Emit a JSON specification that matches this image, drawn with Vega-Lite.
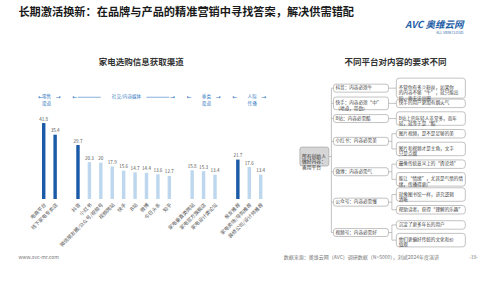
{
  "$schema": "https://vega.github.io/schema/vega-lite/v6.json",
  "background": "white",
  "padding": {"left": 18, "top": 6, "right": 5, "bottom": 5},
  "config": {"font": "Noto Sans CJK SC", "view": {"stroke": null}},
  "datasets": {
    "bars": [
      {"name": "电商平台", "value": 41.8, "group": "零售渠道"},
      {"name": "线下家电专卖店", "value": 35.4, "group": "零售渠道"},
      {"name": "抖音", "value": 29.7, "group": "社交/内容媒体"},
      {"name": "小红书", "value": 20.3, "group": "社交/内容媒体"},
      {"name": "微信朋友圈/公众号/视频号", "value": 20, "group": "社交/内容媒体"},
      {"name": "视频网站", "value": 17.9, "group": "社交/内容媒体"},
      {"name": "快手", "value": 15.6, "group": "社交/内容媒体"},
      {"name": "B站", "value": 14.7, "group": "社交/内容媒体"},
      {"name": "微博", "value": 14.4, "group": "社交/内容媒体"},
      {"name": "今日头条", "value": 13.6, "group": "社交/内容媒体"},
      {"name": "知乎", "value": 12.7, "group": "社交/内容媒体"},
      {"name": "家电垂直类网站", "value": 15.8, "group": "垂类渠道"},
      {"name": "家电官方旗舰店", "value": 15.3, "group": "垂类渠道"},
      {"name": "家电设计类论坛", "value": 13.4, "group": "垂类渠道"},
      {"name": "亲友推荐", "value": 21.7, "group": "人际传播"},
      {"name": "家电卖场/导购推荐", "value": 17.6, "group": "人际传播"},
      {"name": "装修公司/设计师推荐", "value": 13.4, "group": "人际传播"}
    ],
    "headers": [
      {"label": "零售\n渠道", "first": "电商平台", "mid": "电商平台", "last": "线下家电专卖店"},
      {"label": "社交/内容媒体", "first": "抖音", "mid": "快手", "last": "知乎"},
      {"label": "垂类\n渠道", "first": "家电垂直类网站", "mid": "家电官方旗舰店", "last": "家电设计类论坛"},
      {"label": "人际\n传播", "first": "亲友推荐", "mid": "家电卖场/导购推荐", "last": "装修公司/设计师推荐"}
    ],
    "notes": [
      {"platform": "抖音：内容必须牛", "note": "不管你有多少粉丝，如果你\n的内容不够“牛”，就只能出\n局，再无法出圈"},
      {"platform": "快手：内容必须“中”\n（地道，带劲）", "note": "快手的用户更加有烟火气"},
      {"platform": "B站：内容必需酷", "note": "B站上的年轻人非常多，而年\n轻，就等于是“酷”"},
      {"platform": "小红书：内容必需美", "note": "图片视频，是不是足够的美"},
      {"platform": "小红书：内容必需美", "note": "图片和视频才是主角，文字\n只是点缀"},
      {"platform": "微博：内容必需气", "note": "最像传统意义上的“舆论场”"},
      {"platform": "微博：内容必需气", "note": "能让“情绪”，尤其是气愤的情\n绪，传播得更广"},
      {"platform": "公众号：内容必需懂", "note": "就像图书馆一样，讲究逻辑\n清晰"},
      {"platform": "公众号：内容必需懂", "note": "帮助读者，获得“理解的乐趣”"},
      {"platform": "视频号：内容必需好", "note": "沉淀了更多年长的用户"},
      {"platform": "视频号：内容必需好", "note": "他们更偏好传统的文化和价\n值观"}
    ],
    "rootbox": [{"rootText": "所有创始人\n做好内容：\n善用平台"}],
    "single": [{"item": 1}]
  },
  "title": {
    "text": "www.avc-mr.com\u3000\u3000\u3000\u3000\u3000\u3000\u3000\u3000\u3000\u3000\u3000\u3000\u3000\u3000\u3000\u3000\u3000\u3000\u3000\u3000\u3000\u3000\u3000\u3000\u3000\u3000\u3000\u3000\u3000\u3000\u3000\u3000\u3000\u3000\u3000\u3000\u3000\u3000\u3000\u3000\u3000\u3000\u3000\u3000\u3000数据来源：奥维云网（AVC）调研数据（N=5000），刘斌2024年度演讲\u3000\u3000\u3000\u3000\u3000\u3000-19-",
    "orient": "bottom", "anchor": "start", "fontSize": 5, "fontWeight": "normal", "color": "#777", "offset": 3
  },
  "vconcat": [
    {
      "title": {"text": "长期激活换新：在品牌与产品的精准营销中寻找答案，解决供需错配", "anchor": "start", "fontSize": 11.2, "fontWeight": "bold", "color": "#1a1a1a", "offset": 2},
      "vconcat": [
        {
          "title": {"text": "AVC 奥维云网", "subtitle": "ALL VIEW CLOUD", "anchor": "end", "fontSize": 9.5, "fontWeight": "bold", "fontStyle": "italic", "color": "#1f5fa8", "subtitleFontSize": 3.5, "subtitleColor": "#1f5fa8", "subtitlePadding": 1, "dy": -22, "dx": -5, "offset": 1.5},
          "spacing": 31.4,
          "hconcat": [
            {
              "width": {"step": 11.42},
              "height": 123,
              "title": {"text": "家电选购信息获取渠道", "anchor": "middle", "fontSize": 8.5, "fontWeight": "bold", "color": "#333", "offset": 10, "dx": -11},
              "data": {"name": "bars"},
              "layer": [
                {
                  "mark": {"type": "bar", "width": {"band": 0.3}},
                  "encoding": {
                    "x": {"field": "name", "type": "nominal", "sort": null,
                      "scale": {"domain": ["电商平台", "线下家电专卖店", "gap1", "抖音", "小红书", "微信朋友圈/公众号/视频号", "视频网站", "快手", "B站", "微博", "今日头条", "知乎", "gap2", "家电垂直类网站", "家电官方旗舰店", "家电设计类论坛", "gap3", "亲友推荐", "家电卖场/导购推荐", "装修公司/设计师推荐"], "paddingInner": 0, "paddingOuter": 0},
                      "axis": {"title": null, "labelAngle": -45, "labelFontSize": 5, "labelColor": "#555", "domain": false, "ticks": false, "labelPadding": 3, "labelExpr": "indexof(datum.label, 'gap') == 0 ? '' : datum.label"}},
                    "y": {"field": "value", "type": "quantitative", "scale": {"domain": [0, 67.7], "nice": false},
                      "axis": {"values": [0], "labelOpacity": 0, "labelFontSize": 5, "labelPadding": 16.8, "ticks": false, "domain": false, "grid": false, "title": null}},
                    "color": {"condition": {"test": "indexof(['电商平台','线下家电专卖店','抖音','亲友推荐'], datum.name) >= 0", "value": "#1b5aa7"}, "value": "#bdd7ee"}
                  }
                },
                {
                  "mark": {"type": "text", "baseline": "bottom", "dy": -1.5, "fontSize": 4.6, "color": "#555"},
                  "encoding": {
                    "x": {"field": "name", "type": "nominal", "sort": null},
                    "y": {"field": "value", "type": "quantitative"},
                    "text": {"field": "value", "type": "quantitative"}
                  }
                },
                {
                  "data": {"name": "headers"},
                  "mark": {"type": "text", "baseline": "middle", "align": "center", "lineBreak": "\n", "lineHeight": 7, "fontSize": 4.6, "color": "#3b7dc4"},
                  "encoding": {
                    "x": {"field": "mid", "type": "nominal", "sort": null, "bandPosition": 0.75},
                    "y": {"datum": 56, "type": "quantitative"},
                    "text": {"field": "label"}
                  }
                },
                {
                  "data": {"name": "headers"},
                  "mark": {"type": "text", "text": "←", "font": "DejaVu Sans", "baseline": "middle", "align": "left", "fontSize": 6, "color": "#3b7dc4"},
                  "encoding": {
                    "x": {"field": "first", "type": "nominal", "sort": null, "bandPosition": 0},
                    "y": {"datum": 56, "type": "quantitative"}
                  }
                },
                {
                  "data": {"name": "headers"},
                  "mark": {"type": "text", "text": "→", "font": "DejaVu Sans", "baseline": "middle", "align": "right", "fontSize": 6, "color": "#3b7dc4"},
                  "encoding": {
                    "x": {"field": "last", "type": "nominal", "sort": null, "bandPosition": 1},
                    "y": {"datum": 56, "type": "quantitative"}
                  }
                },
                {
                  "data": {"values": [{"from": "抖音", "to": "微信朋友圈/公众号/视频号"}, {"from": "微博", "to": "知乎"}]},
                  "mark": {"type": "rule", "color": "#3b7dc4", "strokeWidth": 0.6},
                  "encoding": {
                    "x": {"field": "from", "type": "nominal", "sort": null},
                    "x2": {"field": "to"},
                    "y": {"datum": 56, "type": "quantitative"}
                  }
                }
              ]
            },
            {
              "width": 170,
              "height": 176.3,
              "title": {"text": "不同平台对内容的要求不同", "anchor": "middle", "fontSize": 8.5, "fontWeight": "bold", "color": "#333", "offset": 10, "dx": 12},
              "data": {"name": "notes"},
              "encoding": {
                "x": {"type": "quantitative", "scale": {"domain": [0, 100], "nice": false, "zero": false}, "axis": null},
                "y": {"type": "nominal", "sort": null, "axis": null,
                  "scale": {"domain": ["不管你有多少粉丝，如果你\n的内容不够“牛”，就只能出\n局，再无法出圈", "快手的用户更加有烟火气", "B站上的年轻人非常多，而年\n轻，就等于是“酷”", "图片视频，是不是足够的美", "图片和视频才是主角，文字\n只是点缀", "最像传统意义上的“舆论场”", "能让“情绪”，尤其是气愤的情\n绪，传播得更广", "就像图书馆一样，讲究逻辑\n清晰", "帮助读者，获得“理解的乐趣”", "沉淀了更多年长的用户", "他们更偏好传统的文化和价\n值观"], "paddingInner": 0, "paddingOuter": 0.3}}
              },
              "layer": [
                {
                  "data": {"name": "single"},
                  "mark": {"type": "rule", "color": "#9a9a9a", "strokeWidth": 0.6},
                  "encoding": {
                    "x": {"datum": 19.4},
                    "y": {"datum": "沉淀了更多年长的用户", "bandPosition": 1},
                    "y2": {"datum": "不管你有多少粉丝，如果你\n的内容不够“牛”，就只能出\n局，再无法出圈"}
                  }
                },
                {
                  "data": {"name": "rootbox"},
                  "mark": {"type": "rule", "color": "#9a9a9a", "strokeWidth": 0.6},
                  "encoding": {
                    "x": {"datum": 17.9},
                    "x2": {"datum": 19.4},
                    "y": {"datum": "图片和视频才是主角，文字\n只是点缀", "bandPosition": 1}
                  }
                },
                {
                  "data": {"name": "rootbox"},
                  "mark": {"type": "point", "filled": true, "opacity": 1, "fill": "#d6d6d6", "stroke": "#9a9a9a", "strokeWidth": 0.6, "size": 841,
                    "shape": "M-0.85,-0.655H0.85Q1,-0.655 1,-0.505V0.505Q1,0.655 0.85,0.655H-0.85Q-1,0.655 -1,0.505V-0.505Q-1,-0.655 -0.85,-0.655Z"},
                  "encoding": {
                    "x": {"datum": 9.4},
                    "y": {"datum": "图片和视频才是主角，文字\n只是点缀", "bandPosition": 1}
                  }
                },
                {
                  "data": {"name": "rootbox"},
                  "mark": {"type": "text", "align": "left", "baseline": "middle", "lineBreak": "\n", "lineHeight": 5.8, "fontSize": 4.8, "color": "#333"},
                  "encoding": {
                    "x": {"datum": 2.1},
                    "y": {"datum": "图片和视频才是主角，文字\n只是点缀", "bandPosition": 1},
                    "text": {"field": "rootText"}
                  }
                },
                {
                  "transform": [
                    {"window": [{"op": "lead", "field": "note", "as": "next"}], "groupby": ["platform"]},
                    {"filter": "datum.next != null"}
                  ],
                  "mark": {"type": "rule", "color": "#9a9a9a", "strokeWidth": 0.6},
                  "encoding": {
                    "x": {"datum": 55},
                    "y": {"field": "note"},
                    "y2": {"field": "next"}
                  }
                },
                {
                  "mark": {"type": "rule", "color": "#9a9a9a", "strokeWidth": 0.6},
                  "encoding": {
                    "x": {"datum": 55},
                    "x2": {"datum": 57.6},
                    "y": {"field": "note"}
                  }
                },
                {
                  "mark": {"type": "point", "filled": true, "opacity": 1, "fill": "white", "stroke": "#9a9a9a", "strokeWidth": 0.6, "size": 4761},
                  "encoding": {
                    "x": {"datum": 77.9},
                    "y": {"field": "note"},
                    "shape": {
                      "condition": [
                        {"test": "length(split(datum.note, '\\n')) >= 3", "value": "M-0.92,-0.29H0.92Q1,-0.29 1,-0.21V0.21Q1,0.29 0.92,0.29H-0.92Q-1,0.29 -1,0.21V-0.21Q-1,-0.29 -0.92,-0.29Z"},
                        {"test": "length(split(datum.note, '\\n')) == 2", "value": "M-0.92,-0.196H0.92Q1,-0.196 1,-0.116V0.116Q1,0.196 0.92,0.196H-0.92Q-1,0.196 -1,0.116V-0.116Q-1,-0.196 -0.92,-0.196Z"}
                      ],
                      "value": "M-0.92,-0.123H0.92Q1,-0.123 1,-0.043V0.043Q1,0.123 0.92,0.123H-0.92Q-1,0.123 -1,0.043V-0.043Q-1,-0.123 -0.92,-0.123Z"
                    }
                  }
                },
                {
                  "mark": {"type": "text", "align": "left", "baseline": "middle", "lineBreak": "\n", "lineHeight": 5.3, "fontSize": 4.6, "color": "#444"},
                  "encoding": {
                    "x": {"datum": 59},
                    "y": {"field": "note"},
                    "text": {"field": "note"}
                  }
                },
                {
                  "transform": [
                    {"joinaggregate": [{"op": "count", "as": "n"}], "groupby": ["platform"]},
                    {"window": [{"op": "row_number", "as": "k"}], "groupby": ["platform"]},
                    {"filter": "datum.k == 1 && datum.n == 1"}
                  ],
                  "layer": [
                    {
                      "mark": {"type": "rule", "color": "#9a9a9a", "strokeWidth": 0.6},
                      "encoding": {"x": {"datum": 19.4}, "x2": {"datum": 20.6}, "y": {"field": "note", "bandPosition": 0.5}}
                    },
                    {
                      "mark": {"type": "rule", "color": "#9a9a9a", "strokeWidth": 0.6},
                      "encoding": {"x": {"datum": 52.9}, "x2": {"datum": 55}, "y": {"field": "note", "bandPosition": 0.5}}
                    },
                    {
                      "mark": {"type": "point", "filled": true, "opacity": 1, "fill": "white", "stroke": "#9a9a9a", "strokeWidth": 0.6, "size": 3025},
                      "encoding": {
                        "x": {"datum": 36.8},
                        "y": {"field": "note", "bandPosition": 0.5},
                        "shape": {
                          "condition": {"test": "indexof(datum.platform, '\\n') >= 0", "value": "M-0.91,-0.23H0.91Q1,-0.23 1,-0.14V0.14Q1,0.23 0.91,0.23H-0.91Q-1,0.23 -1,0.14V-0.14Q-1,-0.23 -0.91,-0.23Z"},
                          "value": "M-0.91,-0.145H0.91Q1,-0.145 1,-0.055V0.055Q1,0.145 0.91,0.145H-0.91Q-1,0.145 -1,0.055V-0.055Q-1,-0.145 -0.91,-0.145Z"
                        }
                      }
                    },
                    {
                      "mark": {"type": "text", "align": "left", "baseline": "middle", "lineBreak": "\n", "lineHeight": 5.3, "fontSize": 4.6, "color": "#444"},
                      "encoding": {"x": {"datum": 21.8}, "y": {"field": "note", "bandPosition": 0.5}, "text": {"field": "platform"}}
                    }
                  ]
                },
                {
                  "transform": [
                    {"joinaggregate": [{"op": "count", "as": "n"}], "groupby": ["platform"]},
                    {"window": [{"op": "row_number", "as": "k"}], "groupby": ["platform"]},
                    {"filter": "datum.k == 1 && datum.n == 2"}
                  ],
                  "layer": [
                    {
                      "mark": {"type": "rule", "color": "#9a9a9a", "strokeWidth": 0.6},
                      "encoding": {"x": {"datum": 19.4}, "x2": {"datum": 20.6}, "y": {"field": "note", "bandPosition": 1}}
                    },
                    {
                      "mark": {"type": "rule", "color": "#9a9a9a", "strokeWidth": 0.6},
                      "encoding": {"x": {"datum": 52.9}, "x2": {"datum": 55}, "y": {"field": "note", "bandPosition": 1}}
                    },
                    {
                      "mark": {"type": "point", "filled": true, "opacity": 1, "fill": "white", "stroke": "#9a9a9a", "strokeWidth": 0.6, "size": 3025,
                        "shape": "M-0.91,-0.145H0.91Q1,-0.145 1,-0.055V0.055Q1,0.145 0.91,0.145H-0.91Q-1,0.145 -1,0.055V-0.055Q-1,-0.145 -0.91,-0.145Z"},
                      "encoding": {"x": {"datum": 36.8}, "y": {"field": "note", "bandPosition": 1}}
                    },
                    {
                      "mark": {"type": "text", "align": "left", "baseline": "middle", "lineBreak": "\n", "lineHeight": 5.3, "fontSize": 4.6, "color": "#444"},
                      "encoding": {"x": {"datum": 21.8}, "y": {"field": "note", "bandPosition": 1}, "text": {"field": "platform"}}
                    }
                  ]
                }
              ]
            }
          ]
        }
      ]
    }
  ]
}
